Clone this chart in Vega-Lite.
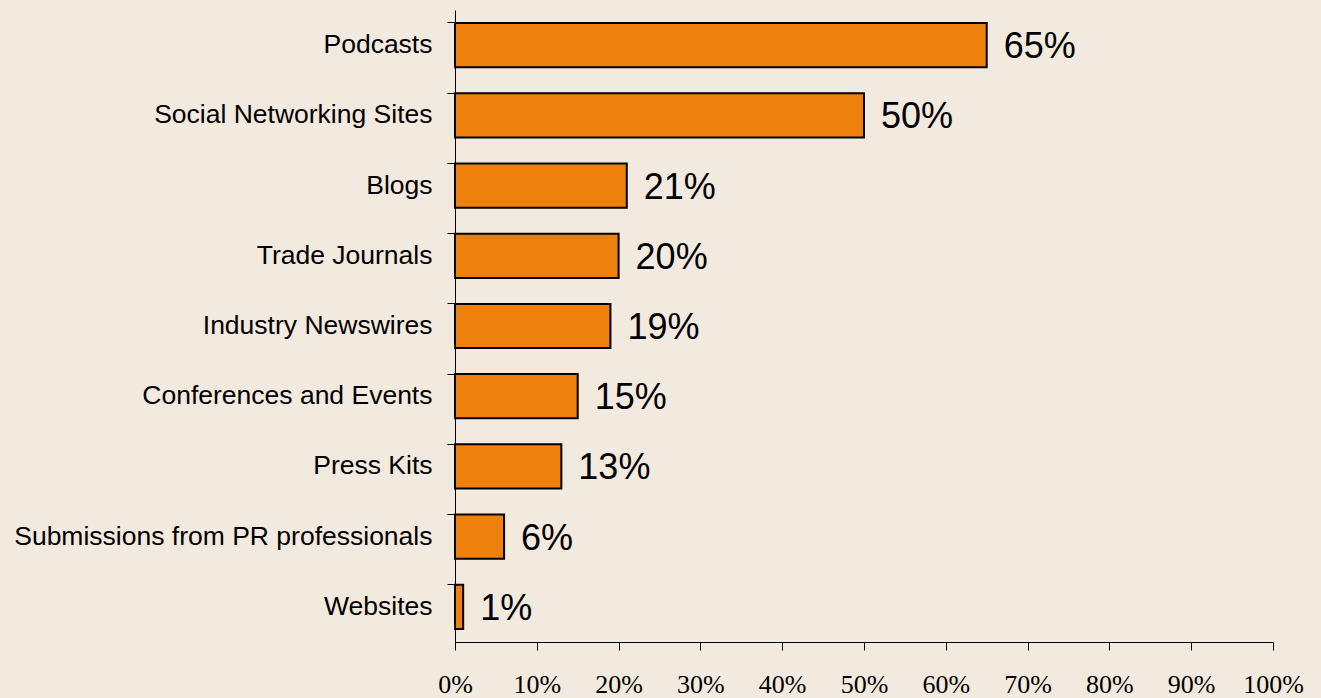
{
  "$schema": "https://vega.github.io/schema/vega-lite/v6.json",
  "width": 818,
  "height": 632,
  "autosize": {"type": "none"},
  "padding": {"left": 455, "top": 10, "right": 48, "bottom": 56},
  "background": "#F2EADF",
  "config": {
    "view": {"stroke": null},
    "axis": {"grid": false, "domainColor": "#000000", "tickColor": "#000000", "labelColor": "#000000", "domainWidth": 1, "tickWidth": 1}
  },
  "data": {
    "values": [
      {"source": "Podcasts", "share": 0.65},
      {"source": "Social Networking Sites", "share": 0.50},
      {"source": "Blogs", "share": 0.21},
      {"source": "Trade Journals", "share": 0.20},
      {"source": "Industry Newswires", "share": 0.19},
      {"source": "Conferences and Events", "share": 0.15},
      {"source": "Press Kits", "share": 0.13},
      {"source": "Submissions from PR professionals", "share": 0.06},
      {"source": "Websites", "share": 0.01}
    ]
  },
  "encoding": {
    "y": {
      "field": "source",
      "type": "nominal",
      "sort": null,
      "title": null,
      "scale": {"paddingInner": 0.37, "paddingOuter": 0.185},
      "axis": {
        "bandPosition": 0,
        "tickSize": 8,
        "labelPadding": 15,
        "labelFont": "Liberation Sans",
        "labelFontSize": 26.5,
        "labelLimit": 0
      }
    },
    "x": {
      "field": "share",
      "type": "quantitative",
      "title": null,
      "scale": {"domain": [0, 1], "nice": false},
      "axis": {
        "format": ".0%",
        "values": [0, 0.1, 0.2, 0.3, 0.4, 0.5, 0.6, 0.7, 0.8, 0.9, 1],
        "tickSize": 8,
        "labelPadding": 21,
        "labelFont": "Liberation Serif",
        "labelFontSize": 26,
        "labelFlush": false,
        "labelOverlap": false
      }
    }
  },
  "layer": [
    {
      "mark": {"type": "bar", "color": "#EE810D", "stroke": "#000000", "strokeWidth": 2}
    },
    {
      "mark": {"type": "text", "align": "left", "baseline": "middle", "dx": 17, "dy": 2, "font": "Liberation Sans", "fontSize": 36, "color": "#000000"},
      "encoding": {
        "text": {"field": "share", "type": "quantitative", "format": ".0%"}
      }
    }
  ]
}
